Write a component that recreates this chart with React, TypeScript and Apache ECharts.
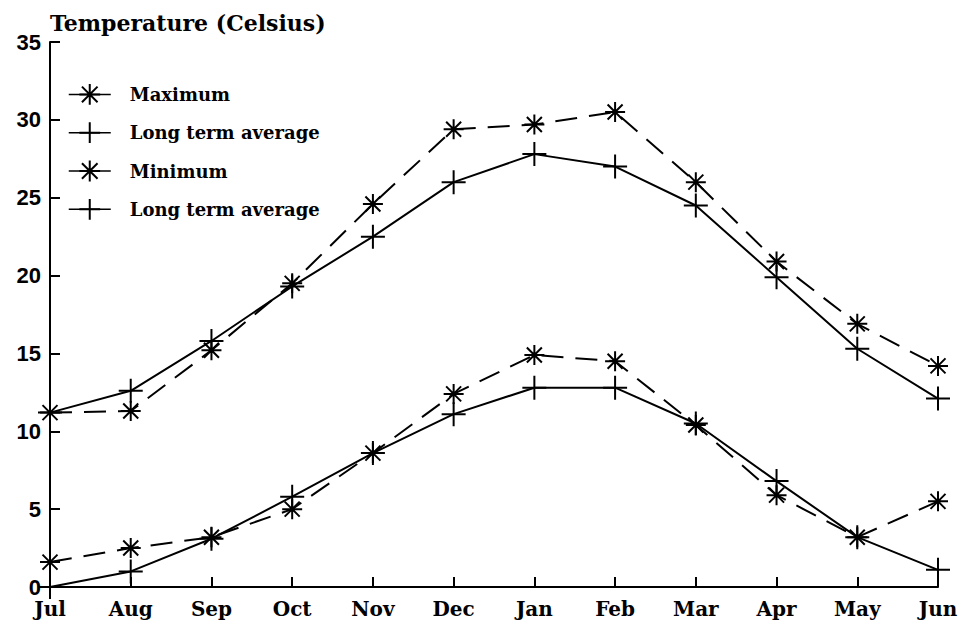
import React, { useEffect, useRef } from "react";
import * as echarts from "echarts";

const months = ["Jul", "Aug", "Sep", "Oct", "Nov", "Dec", "Jan", "Feb", "Mar", "Apr", "May", "Jun"];
const maxTemp = [11.2, 11.3, 15.2, 19.5, 24.6, 29.4, 29.7, 30.5, 26.0, 20.9, 16.9, 14.2];
const maxAvg = [11.2, 12.6, 15.8, 19.3, 22.5, 26.0, 27.8, 27.0, 24.5, 19.9, 15.3, 12.1];
const minTemp = [1.6, 2.5, 3.2, 5.0, 8.6, 12.4, 14.9, 14.5, 10.4, 5.9, 3.2, 5.5];
const minAvg = [0, 1.0, 3.1, 5.8, 8.6, 11.1, 12.8, 12.8, 10.5, 6.8, 3.2, 1.1];
const legendLabels: Record<string, string> = {
  max: "Maximum",
  maxAvg: "Long term average",
  min: "Minimum",
  minAvg: "Long term average",
};

const STAR = "path://M0,-10L0,10M-10,0L10,0M-7.5,-7.5L7.5,7.5M-7.5,7.5L7.5,-7.5";
const PLUS = "path://M0,-12L0,12M-12,0L12,0";

const SERIF = "'DejaVu Serif', 'Liberation Serif', serif";
const SANS = "'Liberation Sans', 'DejaVu Sans', sans-serif";

export default function App() {
  const ref = useRef<HTMLDivElement>(null);
  useEffect(() => {
    if (!ref.current) return;
    const chart = echarts.init(ref.current, undefined, { renderer: "svg" });
    const mk = (name: string, data: number[], dashed: boolean, symbol: string, size: number) => ({
      name,
      type: "line",
      data,
      symbol,
      symbolSize: size,
      symbolKeepAspect: true,
      showAllSymbol: true,
      clip: false,
      lineStyle: { color: "#000", width: 2, type: dashed ? [22, 12] : "solid" },
      itemStyle: { color: "#000", borderColor: "#000", borderWidth: 2 },
      emphasis: { disabled: true },
    });
    chart.setOption({
      animation: false,
      backgroundColor: "#fff",
      title: {
        text: "Temperature (Celsius)",
        left: 45,
        top: 7,
        textStyle: { fontFamily: SERIF, fontWeight: "bold", fontSize: 22, color: "#000" },
      },
      legend: {
        orient: "vertical",
        left: 63,
        top: 78,
        itemWidth: 42,
        itemHeight: 26,
        itemGap: 15.5,
        data: ["max", "maxAvg", "min", "minAvg"],
        formatter: (n: string) => legendLabels[n],
        lineStyle: { type: "solid", width: 1.5 },
        textStyle: { fontFamily: SERIF, fontWeight: "bold", fontSize: 18, color: "#000", padding: [0, 0, 0, 14] },
        selectedMode: false,
      },
      grid: { left: 50, right: 23, top: 42, bottom: 37, containLabel: false },
      xAxis: {
        type: "category",
        data: months,
        boundaryGap: false,
        axisLine: { lineStyle: { color: "#000", width: 2 } },
        axisTick: { inside: true, length: 10, lineStyle: { color: "#000", width: 2 }, alignWithLabel: true },
        axisLabel: { fontFamily: SERIF, fontWeight: "bold", fontSize: 20, color: "#000", margin: 12 },
        splitLine: { show: false },
      },
      yAxis: {
        type: "value",
        min: 0,
        max: 35,
        interval: 5,
        axisLine: { show: true, lineStyle: { color: "#000", width: 2 } },
        axisTick: { show: true, inside: true, length: 10, lineStyle: { color: "#000", width: 2 } },
        axisLabel: { fontFamily: SANS, fontWeight: "bold", fontSize: 22, color: "#000", margin: 9 },
        splitLine: { show: false },
      },
      series: [
        mk("max", maxTemp, true, STAR, 20),
        mk("maxAvg", maxAvg, false, PLUS, 24),
        mk("min", minTemp, true, STAR, 20),
        mk("minAvg", minAvg, false, PLUS, 24),
      ],
    });
    return () => chart.dispose();
  }, []);
  return <div ref={ref} style={{ position: "absolute", left: 0, top: 0, width: 961, height: 624 }} />;
}
